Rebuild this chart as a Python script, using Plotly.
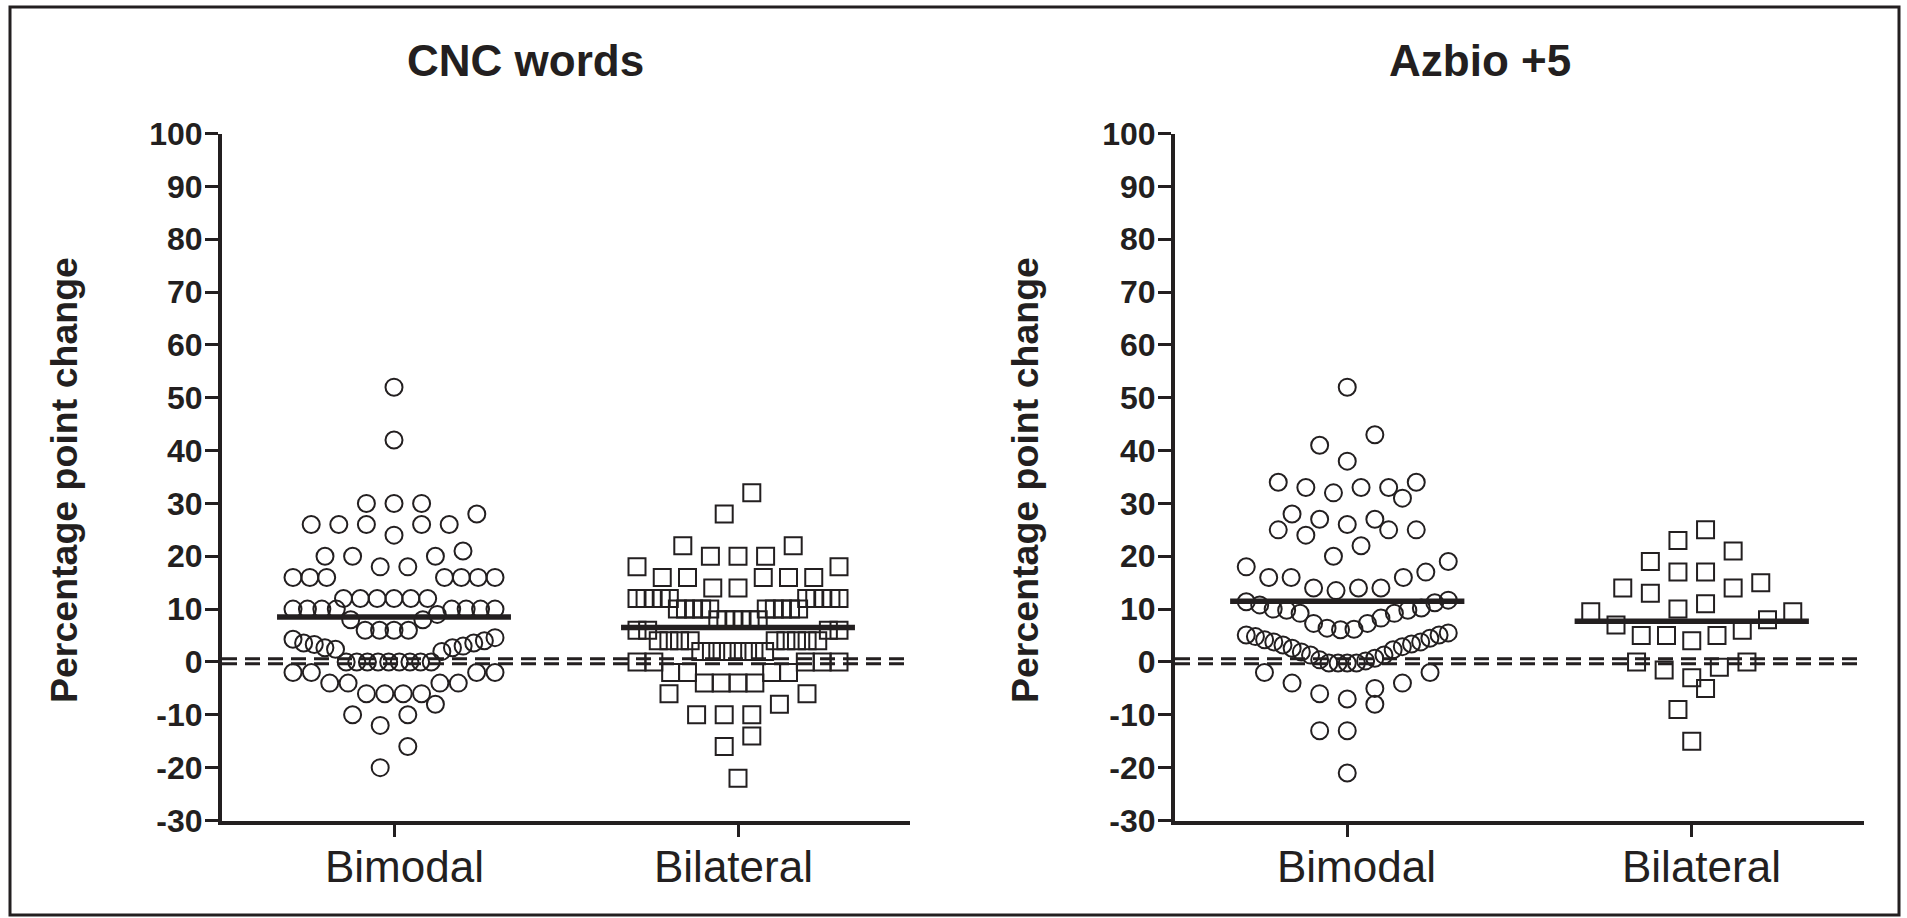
import plotly.graph_objects as go

# ---------------- data ----------------
categories = ["Bimodal", "Bilateral"]
panel_titles = ["CNC words", "Azbio +5"]
y_title = "Percentage point change"
y_ticks = list(range(-30, 101, 10))
y_ticktext = [str(v) for v in y_ticks]

cnc_bimodal = [52, 42, 30, 30, 30, 28, 26, 26, 26, 26, 26, 24, 21, 20, 20, 20,
               18, 18, 16, 16, 16, 16, 16, 16, 16, 12, 12, 12, 12, 12, 12,
               10, 10, 10, 10, 10, 10, 10, 10, 9, 8, 8, 6, 6, 6, 6,
               4.6, 4.3, 4, 3.6, 3.6, 3.3, 3, 2.7, 2.7, 2.4, 2,
               0, 0, 0, 0, 0, 0, 0, 0, 0, -2, -2, -2, -2, -4, -4, -4, -4,
               -6, -6, -6, -6, -8, -10, -10, -12, -16, -20]
cnc_bilateral = [32, 28, 22, 22, 20, 20, 20, 18, 18, 16, 16, 16, 16, 16, 14, 14,
                 12, 12, 12, 12, 12, 12, 12, 12, 12, 12,
                 10, 10, 10, 10, 10, 10, 10, 10, 10, 10,
                 8, 8, 8, 8, 8, 8, 6, 6, 6, 6,
                 4, 4, 4, 4, 4, 4, 4, 4, 4, 2, 2, 2, 2, 2, 2, 2,
                 0, 0, 0, 0, 0, -2, -2, -2, -2, -4, -4, -4, -4,
                 -6, -6, -8, -10, -10, -10, -14, -16, -22]
azbio_bimodal = [52, 43, 41, 38, 34, 34, 33, 33, 33, 32, 31, 28, 27, 27, 26, 25,
                 25, 25, 24, 22, 20, 19, 18, 17, 16, 16, 16, 14, 14, 14, 13.5,
                 11.7, 11.4, 11.2, 10.8, 10.2, 10, 9.8, 9.8, 9.2, 9.2, 8.3, 7.3,
                 7.3, 6.4, 6.2, 6.1, 5.5, 5.1, 5.1, 4.8, 4.5, 4.2, 3.8, 3.8, 3.4,
                 3.2, 2.9, 2.6, 2.3, 1.9, 1.3, 1.3, 0.7, 0.4, 0.2, -0.2, -0.2,
                 -0.2, -0.2, -2, -2, -4, -4, -5, -6, -7, -8, -13, -13, -21]
azbio_bilateral = [25, 23, 21, 19, 17, 17, 15, 14, 14, 13, 11, 10, 9.5, 9.5, 8, 7,
                   6, 5, 5, 5, 4, 0, 0, -1, -1.5, -3, -5, -9, -15]

means_cnc = [8.5, 6.5]
means_azbio = [11.5, 7.7]
ref_lines = [-0.35, 0.6]

# ---------------- layout geometry ----------------
FW, FH = 1907, 918
Y_TOP_PX, Y_BOT_PX = 133.5, 820.5
x_domains_px = [(222, 910), (1175, 1864)]
x_range = [-0.5, 1.5]
y_range = [-30, 100]
y_dom = [(FH - Y_BOT_PX) / FH, (FH - Y_TOP_PX) / FH]

INK = "#231f20"
FONT = "Liberation Sans"


def column_offsets(values, bin_h=5.9, max_half=101.0, max_step=27.6):
    """Column-scatter layout (pixels): values grouped into rows, each row spread
    symmetrically, larger values outside and smaller ones in the middle."""
    idx = sorted(range(len(values)), key=lambda i: values[i])
    bins, cur, start = [], [], None
    for i in idx:
        v = values[i]
        if cur and v - start < bin_h:
            cur.append(i)
        else:
            if cur:
                bins.append(cur)
            cur, start = [i], v
    if cur:
        bins.append(cur)
    offs = [0.0] * len(values)
    for b in bins:
        n = len(b)
        step = max_step if n < 2 else min(max_step, 2 * max_half / (n - 1))
        slots = [(k - (n - 1) / 2) * step for k in range(n)]
        ordered, lo, hi, right = [], 0, n - 1, True
        while lo <= hi:
            if right:
                ordered.append(slots[hi]); hi -= 1
            else:
                ordered.append(slots[lo]); lo += 1
            right = not right
        members = sorted(b, key=lambda i: -values[i])
        for i, s in zip(members, ordered):
            offs[i] = s
    return offs


panels = [
    dict(title=panel_titles[0], groups=[cnc_bimodal, cnc_bilateral], means=means_cnc,
         title_x=525, ytitle_x=64, label_shift=[10, -5]),
    dict(title=panel_titles[1], groups=[azbio_bimodal, azbio_bilateral], means=means_azbio,
         title_x=1480, ytitle_x=1025, label_shift=[9, 10]),
]
symbols = ["circle-open", "square-open"]

fig = go.Figure()
shapes = []
annotations = []

for p, panel in enumerate(panels):
    xa = "x" if p == 0 else "x2"
    ya = "y" if p == 0 else "y2"
    d0, d1 = x_domains_px[p]
    px_per_x = (d1 - d0) / (x_range[1] - x_range[0])
    for g, vals in enumerate(panel["groups"]):
        offs = column_offsets(vals)
        xs = [g + o / px_per_x for o in offs]
        fig.add_trace(go.Scatter(
            x=xs, y=vals, mode="markers", xaxis=xa, yaxis=ya, showlegend=False,
            marker=dict(symbol=symbols[g], size=17, color=INK, line=dict(width=2, color=INK)),
            hoverinfo="y"))
        m = panel["means"][g]
        shapes.append(dict(type="line", xref=xa, yref=ya, x0=g - 0.34, x1=g + 0.34,
                           y0=m, y1=m, line=dict(color=INK, width=5.5)))
        # category label under the tick
        annotations.append(dict(text=categories[g], xref=xa, yref="paper", x=g,
                                y=(FH - 866) / FH, xshift=panel["label_shift"][g],
                                showarrow=False, xanchor="center", yanchor="middle",
                                font=dict(family=FONT, size=44, color=INK)))
    for r in ref_lines:
        shapes.append(dict(type="line", xref=xa, yref=ya, x0=x_range[0], x1=x_range[1] - 0.01,
                           y0=r, y1=r, line=dict(color=INK, width=3, dash="15px,8px")))
    annotations.append(dict(text=panel["title"], xref="paper", yref="paper",
                            x=panel["title_x"] / FW, y=(FH - 61) / FH, showarrow=False,
                            xanchor="center", yanchor="middle",
                            font=dict(family=FONT, size=44, color=INK, weight="bold")))
    annotations.append(dict(text=y_title, xref="paper", yref="paper", textangle=-90,
                            x=panel["ytitle_x"] / FW, y=(FH - 480) / FH, showarrow=False,
                            xanchor="center", yanchor="middle",
                            font=dict(family=FONT, size=37.5, color=INK, weight="bold")))

# outer frame
shapes.append(dict(type="rect", xref="paper", yref="paper", x0=10 / FW, x1=1899 / FW,
                   y0=3 / FH, y1=(FH - 7) / FH, line=dict(color=INK, width=3),
                   fillcolor="rgba(0,0,0,0)", layer="below"))

common_x = dict(range=x_range, tickmode="array", tickvals=[0, 1], showticklabels=False,
                showline=True, linewidth=4, linecolor=INK, ticks="outside", ticklen=12,
                tickwidth=3, tickcolor=INK, showgrid=False, zeroline=False, automargin=False,
                fixedrange=True)
common_y = dict(range=y_range, tickmode="array", tickvals=y_ticks, ticktext=y_ticktext,
                domain=y_dom,
                showline=True, linewidth=4, linecolor=INK, ticks="outside", ticklen=13,
                tickwidth=3, tickcolor=INK, showgrid=False, zeroline=False, automargin=False,
                ticklabelstandoff=-4,
                tickfont=dict(family=FONT, size=32, color=INK, weight="bold"),
                fixedrange=True)

fig.update_layout(
    template="none",
    width=FW, height=FH, autosize=False,
    margin=dict(l=0, r=0, t=0, b=0, pad=0),
    paper_bgcolor="white", plot_bgcolor="white",
    xaxis=dict(common_x, domain=[x_domains_px[0][0] / FW, x_domains_px[0][1] / FW], anchor="y"),
    yaxis=dict(common_y, anchor="x"),
    xaxis2=dict(common_x, domain=[x_domains_px[1][0] / FW, x_domains_px[1][1] / FW], anchor="y2"),
    yaxis2=dict(common_y, anchor="x2"),
    shapes=shapes,
    annotations=annotations,
)

fig.write_html("out.html", config={"displayModeBar": False},
               post_script="document.body.style.margin='0';document.body.style.overflow='hidden';")
